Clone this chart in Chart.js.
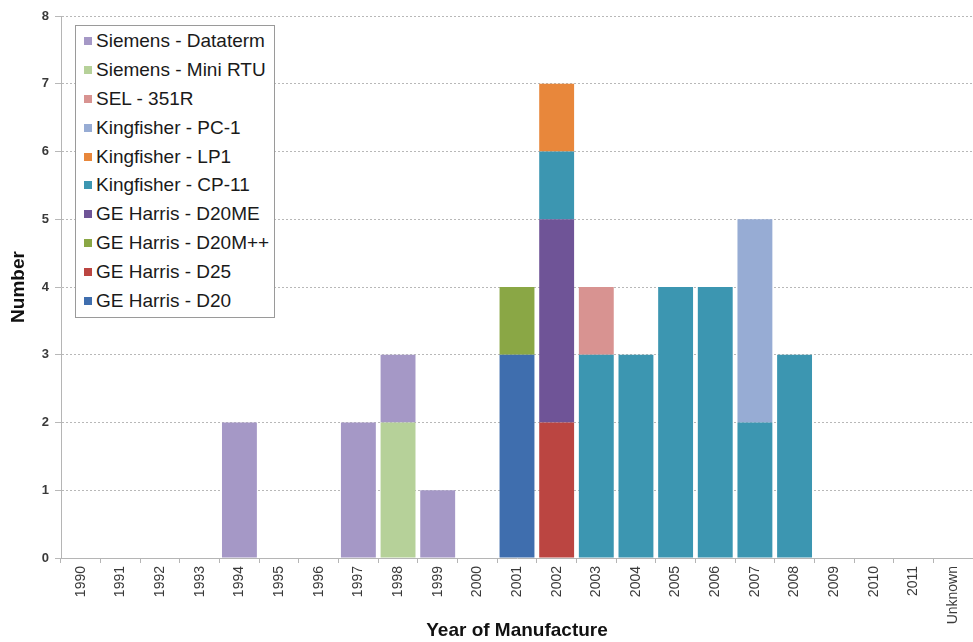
<!DOCTYPE html>
<html>
<head>
<meta charset="utf-8">
<script src="https://cdn.jsdelivr.net/npm/chart.js@4"></script>
<style>
  html, body { margin: 0; padding: 0; background: #fff; }
  #wrap { position: relative; width: 973px; height: 642px; }
  #legend {
    position: absolute; left: 75px; top: 25px; width: 200px;
    border: 1px solid #9a9a9a; background: #fff; padding: 1px 0;
    font-family: "Liberation Sans", Arial, sans-serif; font-size: 19px; color: #1a1a1a;
    box-sizing: border-box;
  }
  #legend .item { height: 28.9px; line-height: 28.9px; white-space: nowrap; padding-left: 8px; }
  #legend .sw { display: inline-block; width: 8px; height: 8px; margin-right: 4px; vertical-align: 2px; }
</style>
</head>
<body>
<div id="wrap">
  <canvas id="chart" width="973" height="642"></canvas>
  <div id="legend"></div>
</div>
<script>
const years = ['1990','1991','1992','1993','1994','1995','1996','1997','1998','1999','2000',
  '2001','2002','2003','2004','2005','2006','2007','2008','2009','2010','2011','Unknown'];

// Units per year for each model (stacked bottom to top in this order)
const geD20        = [0,0,0,0,0,0,0,0,0,0,0, 3,0,0,0,0,0,0,0,0,0,0,0];
const geD25        = [0,0,0,0,0,0,0,0,0,0,0, 0,2,0,0,0,0,0,0,0,0,0,0];
const geD20Mpp     = [0,0,0,0,0,0,0,0,0,0,0, 1,0,0,0,0,0,0,0,0,0,0,0];
const geD20ME      = [0,0,0,0,0,0,0,0,0,0,0, 0,3,0,0,0,0,0,0,0,0,0,0];
const kfCP11       = [0,0,0,0,0,0,0,0,0,0,0, 0,1,3,3,4,4,2,3,0,0,0,0];
const kfLP1        = [0,0,0,0,0,0,0,0,0,0,0, 0,1,0,0,0,0,0,0,0,0,0,0];
const kfPC1        = [0,0,0,0,0,0,0,0,0,0,0, 0,0,0,0,0,0,3,0,0,0,0,0];
const sel351R      = [0,0,0,0,0,0,0,0,0,0,0, 0,0,1,0,0,0,0,0,0,0,0,0];
const siemensMini  = [0,0,0,0,0,0,0,0,2,0,0, 0,0,0,0,0,0,0,0,0,0,0,0];
const siemensData  = [0,0,0,0,2,0,0,2,1,1,0, 0,0,0,0,0,0,0,0,0,0,0,0];

const yTicks = [0,1,2,3,4,5,6,7,8];

const series = [
  { label: 'GE Harris - D20',       data: geD20,       color: '#3f6eae' },
  { label: 'GE Harris - D25',       data: geD25,       color: '#bb4541' },
  { label: 'GE Harris - D20M++',    data: geD20Mpp,    color: '#8aa745' },
  { label: 'GE Harris - D20ME',     data: geD20ME,     color: '#6f5497' },
  { label: 'Kingfisher - CP-11',    data: kfCP11,      color: '#3c96b1' },
  { label: 'Kingfisher - LP1',      data: kfLP1,       color: '#e8873b' },
  { label: 'Kingfisher - PC-1',     data: kfPC1,       color: '#97acd4' },
  { label: 'SEL - 351R',            data: sel351R,     color: '#d89391' },
  { label: 'Siemens - Mini RTU',    data: siemensMini, color: '#b6d199' },
  { label: 'Siemens - Dataterm',    data: siemensData, color: '#a598c6' }
];

const FONT = '"Liberation Sans", Arial, sans-serif';

const chart = new Chart(document.getElementById('chart'), {
  type: 'bar',
  data: {
    labels: years,
    datasets: series.map(s => ({
      label: s.label,
      data: s.data,
      backgroundColor: s.color,
      borderWidth: 0,
      categoryPercentage: 1.0,
      barPercentage: 0.88
    }))
  },
  options: {
    responsive: false,
    animation: false,
    devicePixelRatio: 1,
    layout: { padding: { top: 16, right: 0, bottom: 0, left: 0 } },
    plugins: {
      legend: { display: false },
      tooltip: { enabled: false }
    },
    scales: {
      x: {
        stacked: true,
        offset: true,
        grid: {
          display: true,
          offset: true,
          drawOnChartArea: false,
          drawTicks: true,
          tickLength: 5,
          color: '#b5b5b5'
        },
        border: { display: true, color: '#b5b5b5' },
        ticks: {
          minRotation: 90, maxRotation: 90,
          autoSkip: false,
          padding: 3,
          color: '#3a3a3a',
          font: { family: FONT, size: 14 }
        },
        title: {
          display: true,
          text: 'Year of Manufacture',
          color: '#111',
          padding: { top: 0, bottom: 0 },
          font: { family: FONT, size: 19, weight: 'bold' }
        },
        afterFit: (scale) => { scale.height = 84; }
      },
      y: {
        stacked: true,
        min: 0,
        max: 8,
        afterBuildTicks: (scale) => { scale.ticks = yTicks.map(v => ({ value: v })); },
        grid: {
          color: '#b8b8b8',
          tickLength: 6,
          drawTicks: true
        },
        border: { display: true, color: '#b5b5b5', dash: [2, 2] },
        ticks: {
          padding: 6,
          color: '#3a3a3a',
          font: { family: FONT, size: 13, weight: 'bold' }
        },
        title: {
          display: true,
          text: 'Number',
          color: '#111',
          padding: { top: 7, bottom: 0 },
          font: { family: FONT, size: 19, weight: 'bold' }
        },
        afterFit: (scale) => { scale.width = 61; }
      }
    }
  }
});

// legend, listed top-down in reverse stacking order
const legendEl = document.getElementById('legend');
series.slice().reverse().forEach(s => {
  const d = document.createElement('div');
  d.className = 'item';
  const sw = document.createElement('span');
  sw.className = 'sw';
  sw.style.background = s.color;
  d.appendChild(sw);
  d.appendChild(document.createTextNode(s.label));
  legendEl.appendChild(d);
});
</script>
</body>
</html>
